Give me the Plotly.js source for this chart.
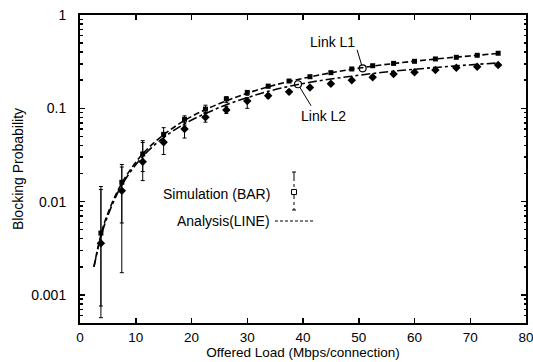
<!DOCTYPE html>
<html>
<head>
<meta charset="utf-8">
<script src="https://cdn.plot.ly/plotly-3.0.1.min.js"></script>
<style>html,body{margin:0;padding:0;background:#fff;}#chart{width:533px;height:362px;}</style>
</head>
<body>
<div id="chart"></div>
<script>
// ---- data ----
const loadX = [3.75, 7.5, 11.25, 15, 18.75, 22.5, 26.25, 30, 33.75, 37.5, 41.25, 45, 48.75, 52.5, 56.25, 60, 63.75, 67.5, 71.25, 75];
const simL1 = [0.0046, 0.0161, 0.0324, 0.0526, 0.0762, 0.098, 0.126, 0.148, 0.173, 0.196, 0.218, 0.241, 0.264, 0.286, 0.303, 0.319, 0.338, 0.352, 0.370, 0.389];
const simL2 = [0.00357, 0.0131, 0.0268, 0.0432, 0.060, 0.080, 0.096, 0.120, 0.136, 0.150, 0.167, 0.183, 0.200, 0.215, 0.233, 0.243, 0.257, 0.272, 0.279, 0.291];
const simL1Hi = [0.0145, 0.025, 0.045, 0.062, 0.083, 0.108, 0.133, 0.155, 0.180, 0.203, 0.225, 0.248, 0.271, 0.293, 0.311, 0.327, 0.346, 0.360, 0.378, 0.397];
const simL1Lo = [0.00076, 0.0059, 0.021, 0.045, 0.066, 0.088, 0.115, 0.138, 0.165, 0.189, 0.211, 0.234, 0.257, 0.279, 0.295, 0.311, 0.330, 0.344, 0.362, 0.381];
const simL2Hi = [0.0135, 0.0235, 0.043, 0.050, 0.070, 0.090, 0.105, 0.130, 0.143, 0.157, 0.174, 0.190, 0.207, 0.222, 0.240, 0.250, 0.264, 0.279, 0.286, 0.298];
const simL2Lo = [0.00057, 0.00173, 0.0168, 0.032, 0.048, 0.071, 0.088, 0.100, 0.129, 0.143, 0.160, 0.176, 0.193, 0.208, 0.226, 0.236, 0.250, 0.265, 0.272, 0.284];

const anaX  = [2.5, 3.75, 5, 7.5, 11.25, 15, 18.75, 22.5, 26.25, 30, 33.75, 37.5, 41.25, 45, 48.75, 52.5, 56.25, 60, 63.75, 67.5, 71.25, 75];
const anaL1 = [0.002, 0.0044, 0.0075, 0.0158, 0.0325, 0.052, 0.074, 0.097, 0.120, 0.145, 0.170, 0.194, 0.217, 0.240, 0.262, 0.283, 0.302, 0.320, 0.337, 0.354, 0.370, 0.387];
const anaL2 = [0.002, 0.0042, 0.0071, 0.0150, 0.0305, 0.0485, 0.068, 0.088, 0.109, 0.130, 0.152, 0.172, 0.190, 0.206, 0.221, 0.236, 0.250, 0.262, 0.274, 0.285, 0.296, 0.306];

const xTicks = [0, 10, 20, 30, 40, 50, 60, 70, 80];
const yTickVals = [0.001, 0.01, 0.1, 1];
const yTickText = ['0.001', '0.01', '0.1', '1'];

const linkLabels = ['Link L1', 'Link L2'];
const linkX = [50.7, 39.1];
const linkY = [0.268, 0.181];

const legendLabels = ['Simulation (BAR)', 'Analysis(LINE)'];

// ---- build ----
const FONT = 'Liberation Sans, Arial, sans-serif';
const plus = (hi, v) => hi.map((h, i) => h - v[i]);
const minus = (lo, v) => lo.map((l, i) => v[i] - l);

const traces = [
  {x: anaX, y: anaL1, mode: 'lines', line: {color: '#000', width: 1.6, dash: '6px,3px', shape: 'spline'}, hoverinfo: 'skip'},
  {x: anaX, y: anaL2, mode: 'lines', line: {color: '#000', width: 1.6, dash: 'dashdot', shape: 'spline'}, hoverinfo: 'skip'},
  {x: loadX, y: simL1, mode: 'markers', marker: {symbol: 'square', size: 5, color: '#000'},
   error_y: {type: 'data', symmetric: false, array: plus(simL1Hi, simL1), arrayminus: minus(simL1Lo, simL1), color: '#000', thickness: 1, width: 2}},
  {x: loadX, y: simL2, mode: 'markers', marker: {symbol: 'diamond', size: 6.5, color: '#000'},
   error_y: {type: 'data', symmetric: false, array: plus(simL2Hi, simL2), arrayminus: minus(simL2Lo, simL2), color: '#000', thickness: 1, width: 2}},
  {x: linkX, y: linkY, mode: 'markers', marker: {symbol: 'circle-open', size: 7, color: '#000', line: {width: 1.2}}, hoverinfo: 'skip'}
];

const minorVals = [];
[0.0001, 0.001, 0.01, 0.1].forEach(d => { for (let k = 2; k <= 9; k++) minorVals.push(d * k); });

const layout = {
  width: 533, height: 362,
  margin: {l: 80, r: 7, t: 15, b: 39},
  paper_bgcolor: '#fff', plot_bgcolor: '#fff',
  showlegend: false,
  font: {family: FONT, size: 14, color: '#000'},
  xaxis: {
    range: [0, 80], tickvals: xTicks, ticks: 'inside', ticklen: 5, tickwidth: 1.5, tickcolor: '#000',
    showline: true, linewidth: 2, linecolor: '#000', mirror: 'ticks', showgrid: false, zeroline: false,
    tickfont: {family: FONT, size: 13.5}, ticklabelstandoff: 1, ticklabeloverflow: 'allow',
    title: {text: 'Offered Load (Mbps/connection)', font: {family: FONT, size: 13.5}, standoff: 3}
  },
  yaxis: {
    type: 'log', range: [Math.log10(0.0005), 0], tickmode: 'array', tickvals: yTickVals, ticktext: yTickText,
    ticks: 'inside', ticklen: 5, tickwidth: 1.5, tickcolor: '#000',
    minor: {tickmode: 'array', tickvals: minorVals, ticks: 'inside', ticklen: 2.5, tickcolor: '#000', showgrid: false},
    showline: true, linewidth: 2, linecolor: '#000', mirror: 'ticks', showgrid: false, zeroline: false,
    tickfont: {family: FONT, size: 14}, ticklabelstandoff: 9,
    title: {text: 'Blocking Probability', font: {family: FONT, size: 14}, standoff: 4}
  },
  annotations: [
    {x: linkX[0], y: Math.log10(linkY[0]), xref: 'x', yref: 'y', text: '', showarrow: true, arrowhead: 0, arrowwidth: 1, arrowcolor: '#000', ax: -6, ay: -20, standoff: 3},
    {x: linkX[0], y: Math.log10(linkY[0]), xref: 'x', yref: 'y', text: linkLabels[0], showarrow: false, xshift: -30, yshift: 26, font: {family: FONT, size: 14}},
    {x: linkX[1], y: Math.log10(linkY[1]), xref: 'x', yref: 'y', text: '', showarrow: true, arrowhead: 0, arrowwidth: 1, arrowcolor: '#000', ax: 14, ay: 23, standoff: 3},
    {x: linkX[1], y: Math.log10(linkY[1]), xref: 'x', yref: 'y', text: linkLabels[1], showarrow: false, xshift: 26, yshift: -32, font: {family: FONT, size: 14}},
    {x: 272, y: 194, xref: 'paper', yref: 'paper', text: legendLabels[0], showarrow: false, xanchor: 'right', yanchor: 'middle', font: {family: FONT, size: 14}},
    {x: 272, y: 221, xref: 'paper', yref: 'paper', text: legendLabels[1], showarrow: false, xanchor: 'right', yanchor: 'middle', font: {family: FONT, size: 14}}
  ],
  shapes: []
};

// legend decorations in pixel positions -> paper coords
const W = 533, H = 362, L = 80, R = 7, T = 15, B = 39;
const pw = W - L - R, ph = H - T - B;
const px = v => (v - L) / pw;
const py = v => 1 - (v - T) / ph;
layout.annotations.slice(4).forEach(a => { a.x = px(a.x); a.y = py(a.y); });
layout.shapes.push(
  {type: 'line', xref: 'paper', yref: 'paper', x0: px(294), x1: px(294), y0: py(172), y1: py(210), line: {color: '#000', width: 1, dash: 'dashdot'}},
  {type: 'line', xref: 'paper', yref: 'paper', x0: px(292), x1: px(296), y0: py(172), y1: py(172), line: {color: '#000', width: 1}},
  {type: 'line', xref: 'paper', yref: 'paper', x0: px(292), x1: px(296), y0: py(210), y1: py(210), line: {color: '#000', width: 1}},
  {type: 'rect', xref: 'paper', yref: 'paper', x0: px(291.5), x1: px(296.5), y0: py(189.5), y1: py(194.5), fillcolor: '#fff', line: {color: '#000', width: 1}},
  {type: 'line', xref: 'paper', yref: 'paper', x0: px(275), x1: px(313), y0: py(221), y1: py(221), line: {color: '#000', width: 1, dash: '3px,2px'}}
);

Plotly.newPlot('chart', traces, layout, {staticPlot: true, displayModeBar: false});
</script>
</body>
</html>
